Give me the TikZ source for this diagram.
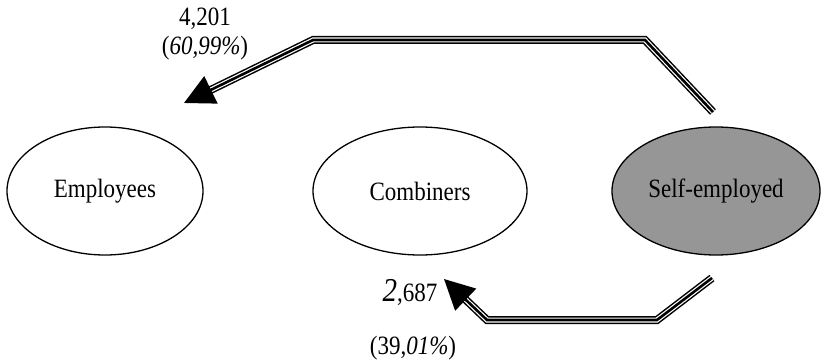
\documentclass[tikz,border=0pt]{standalone}
\usepackage{fontspec}
\usepackage{graphicx}
\setmainfont{Liberation Serif}
\usetikzlibrary{shapes.geometric,arrows.meta,calc}
\definecolor{segray}{RGB}{150,150,150}
\newcommand{\talltext}[1]{\scalebox{1}[1.15]{#1}}
\begin{document}
\begin{tikzpicture}[x=1pt,y=-1pt,
  every node/.style={font=\fontsize{23}{26}\selectfont},
  stateoval/.style={ellipse, draw=black, line width=1.3pt, minimum height=128pt, inner sep=0pt},
  tripleline/.style={line width=8pt, draw=black, line join=miter,
     postaction={draw=white, line width=5pt},
     postaction={draw=black, line width=2.6pt}},
  bighead/.style={draw=black, line width=2.6pt, -{Triangle[length=30pt,width=30pt]}}
]
\useasboundingbox (0,0) rectangle (823,361);
\node[stateoval, minimum width=196pt] (emp) at (105,191) {\talltext{Employees}};
\node[stateoval, minimum width=214pt] (comb) at (420,191) {\talltext{Combiners}};
\node[stateoval, minimum width=208pt, fill=segray] (self) at (716,191) {\talltext{Self-employed}};

% top arrow: self-employed -> employees
\coordinate (t0) at (713,112);
\coordinate (t1) at (645,40);
\coordinate (t2) at (313,40);
\coordinate (t3) at (184,103);
\coordinate (t3b) at ($(t3)!24pt!(t2)$);
\draw[tripleline] (t0) -- (t1) -- (t2) -- (t3b);
\draw[bighead] (t3b) -- (t3);

% bottom arrow: self-employed -> combiners
\coordinate (b0) at (712,278);
\coordinate (b1) at (657,320);
\coordinate (b2) at (487,320);
\coordinate (b3) at (444,279);
\coordinate (b3b) at ($(b3)!24pt!(b2)$);
\draw[tripleline] (b0) -- (b1) -- (b2) -- (b3b);
\draw[bighead] (b3b) -- (b3);

\node (n1) at (205,19) {\talltext{4,201}};
\node (p1) at (205,48) {\talltext{(\textit{60,99\%})}};
\node (n2) at (410,292) {\talltext{{\fontsize{29}{29}\selectfont\itshape 2},687}};
\node (p2) at (413,348) {\talltext{(39,\textit{01\%})}};
\end{tikzpicture}
\end{document}
